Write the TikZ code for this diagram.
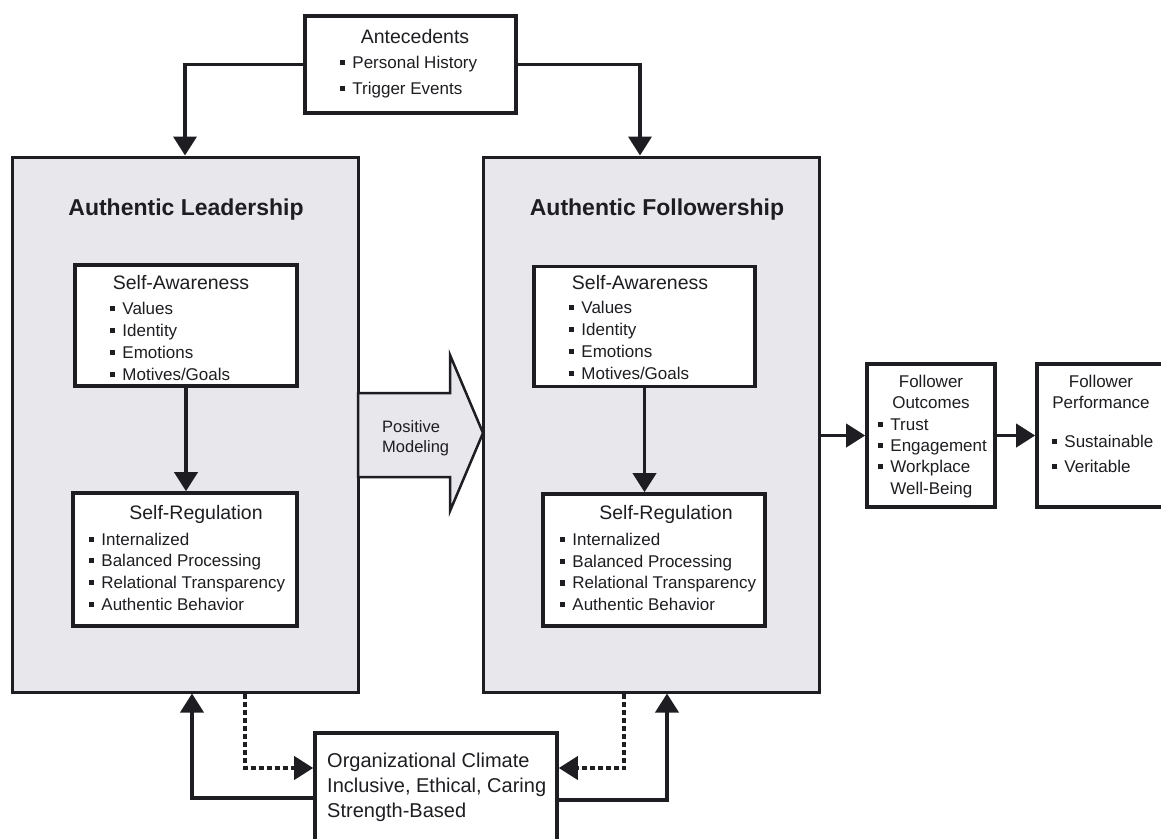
\documentclass[tikz,border=0pt]{standalone}
\usepackage{fontspec}
\setmainfont{Liberation Sans}
\usetikzlibrary{arrows.meta,calc}
\definecolor{panelgray}{RGB}{232,232,236}
\definecolor{inkgray}{RGB}{30,30,34}
\newcommand{\bul}{\rule[0.2em]{0.3em}{0.3em}\hspace{0.42em}}

\begin{document}
\begin{tikzpicture}[
        x=1pt, y=-1pt,
        every node/.style={text=inkgray, inner sep=0pt},
        outerbox/.style={draw=inkgray, line width=3pt, fill=panelgray},
        innerbox/.style={draw=inkgray, line width=3.6pt, fill=white},
        headtext/.style={font=\fontsize{19.5}{21}\selectfont},
        titletext/.style={font=\fontsize{23}{26}\selectfont\bfseries},
        itemtext/.style={align=left, anchor=west, font=\fontsize{17}{22}\selectfont},
        conn/.style={draw=inkgray, line width=3.8pt, -{Triangle[length=19pt,width=23pt]}},
        dashconn/.style={conn, dash pattern=on 5pt off 3pt}
    ]
    \clip (0,0) rectangle (1161,838);
    \fill[white] (0,0) rectangle (1161,838);

    % the two panels and the modeling arrow between them
    \node[outerbox, minimum width=346, minimum height=535] (lead) at (185,424.5) {};
    \node[outerbox, minimum width=336, minimum height=535] (foll) at (651,424.5) {};
    \filldraw[draw=inkgray, fill=panelgray, line width=2.5pt]
        (358,393) -- (450,393) -- (450,355) -- (483,433) -- (450,511) -- (450,477) -- (358,477) -- cycle;
    \node[itemtext, font=\fontsize{16.5}{20}\selectfont] (posMod) at (382,438) {Positive\\Modeling};

    \node[titletext] (leadTitle) at (186,210) {Authentic Leadership};
    \node[titletext] (follTitle) at (657,210) {Authentic Followership};

    % boxes
    \node[innerbox, minimum width=211, minimum height=97] (ante) at (410.5,64.5) {};
    \node[innerbox, minimum width=222, minimum height=121] (saL) at (186,325.5) {};
    \node[innerbox, minimum width=224, minimum height=133] (srL) at (185,559.5) {};
    \node[innerbox, minimum width=221, minimum height=120] (saR) at (644.5,326.5) {};
    \node[innerbox, minimum width=222, minimum height=132] (srR) at (654,560) {};
    \node[innerbox, minimum width=128, minimum height=143] (out) at (931,435.5) {};
    \node[innerbox, minimum width=133, minimum height=143] (perf) at (1103.5,435.5) {};
    \node[innerbox, minimum width=242, minimum height=120] (clim) at (436,793) {};

    % texts
    \node[headtext] (anteHead) at (415,37) {Antecedents};
    \node[itemtext, font=\fontsize{17}{26}\selectfont] (anteItems) at (340,77)
        {\bul Personal History\\ \bul Trigger Events};

    \node[headtext] (saLHead) at (181,283) {Self-Awareness};
    \node[itemtext] (saLItems) at (110,341)
        {\bul Values\\ \bul Identity\\ \bul Emotions\\ \bul Motives/Goals};
    \node[headtext] (srLHead) at (196,514) {Self-Regulation};
    \node[itemtext, font=\fontsize{17}{21.7}\selectfont] (srLItems) at (89,571.5)
        {\bul Internalized\\ \bul Balanced Processing\\ \bul Relational Transparency\\ \bul Authentic Behavior};

    \node[headtext] (saRHead) at (640,283) {Self-Awareness};
    \node[itemtext] (saRItems) at (569,340)
        {\bul Values\\ \bul Identity\\ \bul Emotions\\ \bul Motives/Goals};
    \node[headtext] (srRHead) at (666,514) {Self-Regulation};
    \node[itemtext, font=\fontsize{17}{21.7}\selectfont] (srRItems) at (560,572)
        {\bul Internalized\\ \bul Balanced Processing\\ \bul Relational Transparency\\ \bul Authentic Behavior};

    \node[align=center, font=\fontsize{17}{21}\selectfont] (outHead) at (931,391.5) {Follower\\Outcomes};
    \node[itemtext, font=\fontsize{17}{21.3}\selectfont] (outItems) at (878,458)
        {\bul Trust\\ \bul Engagement\\ \bul Workplace\\ \phantom{\bul}Well-Being};
    \node[align=center, font=\fontsize{17}{21}\selectfont] (perfHead) at (1101,391.5) {Follower\\Performance};
    \node[itemtext, font=\fontsize{17}{25}\selectfont] (perfItems) at (1052,453.5)
        {\bul Sustainable\\ \bul Veritable};

    \node[itemtext, font=\fontsize{20}{25}\selectfont] (climText) at (327,787)
        {Organizational Climate\\Inclusive, Ethical, Caring\\Strength-Based};

    % connectors
    \draw[conn] (ante.west) -| (lead.north);
    \draw[conn] (ante.east) -| ($(foll.north)+(-11,0)$);
    \draw[conn] (saL.south) -- (saL.south |- srL.north);
    \draw[conn] (saR.south) -- (saR.south |- srR.north);
    \draw[conn] (foll.east |- out.west) -- (out.west);
    \draw[conn] (out.east) -- (perf.west |- out.east);

    \coordinate (lUp) at ($(lead.south)+(7,0)$);
    \coordinate (rUp) at ($(foll.south)+(16,0)$);
    \draw[conn] ($(clim.west)+(0,5)$) -| (lUp);
    \draw[conn] ($(clim.east)+(0,7)$) -| (rUp);
    \draw[dashconn] ($(lead.south)+(60,0)$) |- ($(clim.west)+(0,-25)$);
    \draw[dashconn] ($(foll.south)+(-27,0)$) |- ($(clim.east)+(0,-25)$);
\end{tikzpicture}
\end{document}
